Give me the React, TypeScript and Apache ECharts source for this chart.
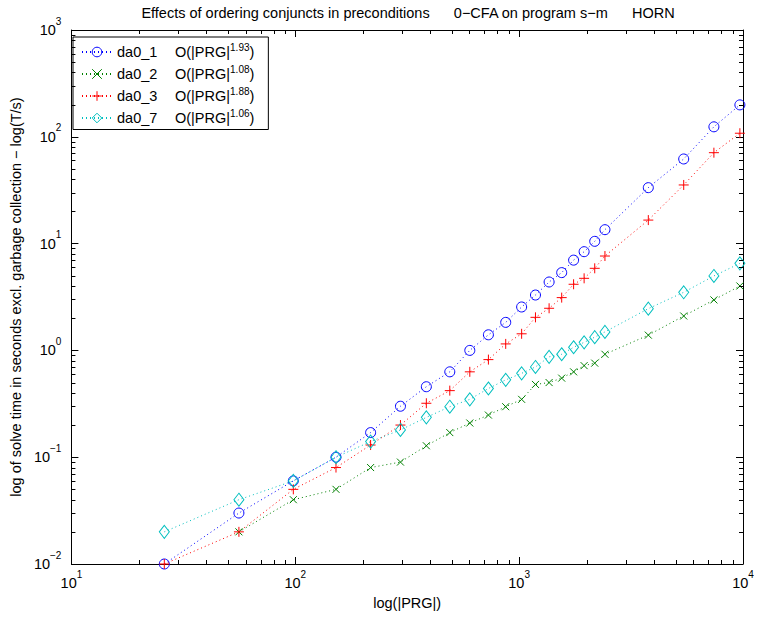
import React, { useEffect, useRef } from 'react';
import * as echarts from 'echarts';

// |PRG| sizes (x values)
const prgSizes = [26, 56, 98, 152, 217, 295, 385, 490, 602, 729, 871, 1026, 1183, 1361, 1549, 1751, 1951, 2176, 2417, 3776, 5434, 7413, 9685];

// solve times (s)
const da0_1 = [0.01, 0.03, 0.06, 0.10, 0.17, 0.30, 0.457, 0.63, 1.0, 1.40, 1.83, 2.55, 3.30, 4.37, 5.35, 7.0, 8.4, 10.5, 13.5, 33.4, 62, 124, 199];
const da0_2 = [null, 0.02, 0.04, 0.05, 0.08, 0.09, 0.128, 0.17, 0.209, 0.248, 0.297, 0.348, 0.48, 0.50, 0.55, 0.63, 0.72, 0.76, 0.92, 1.39, 2.10, 2.97, 4.01];
const da0_3 = [0.01, 0.02, 0.05, 0.08, 0.13, 0.20, 0.32, 0.42, 0.63, 0.82, 1.15, 1.43, 2.04, 2.48, 3.12, 4.16, 4.73, 5.87, 7.65, 16.6, 35.4, 71, 108];
const da0_7 = [0.02, 0.04, 0.06, 0.10, 0.14, 0.18, 0.236, 0.297, 0.348, 0.44, 0.53, 0.61, 0.70, 0.87, 0.92, 1.07, 1.19, 1.33, 1.49, 2.46, 3.50, 4.98, 6.53];

const seriesNames = ['da0_1', 'da0_2', 'da0_3', 'da0_7'];
const exponents = ['1.93', '1.08', '1.88', '1.06'];
const seriesColors = ['#0000ff', '#008000', '#ff0000', '#00bfbf'];

const xMinorTicks = [20, 30, 40, 50, 60, 70, 80, 90, 200, 300, 400, 500, 600, 700, 800, 900, 2000, 3000, 4000, 5000, 6000, 7000, 8000, 9000];
const yMinorTicks = [0.02, 0.03, 0.04, 0.05, 0.06, 0.07, 0.08, 0.09, 0.2, 0.3, 0.4, 0.5, 0.6, 0.7, 0.8, 0.9, 2, 3, 4, 5, 6, 7, 8, 9, 20, 30, 40, 50, 60, 70, 80, 90, 200, 300, 400, 500, 600, 700, 800, 900];

const titleText = 'Effects of ordering conjuncts in preconditions\u00A0\u00A0\u00A0\u00A0\u00A0\u00A00\u2212CFA on program s\u2212m\u00A0\u00A0\u00A0\u00A0\u00A0\u00A0HORN';
const xName = 'log(|PRG|)';
const yName = 'log of solve time in seconds excl. garbage collection \u2212 log(T/s)';

const FONT = '"Liberation Sans", Arial, Helvetica, sans-serif';
const FS = 14.5;

const tickLabel = (v: number) => {
  const e = Math.round(Math.log10(v));
  const es = e < 0 ? '\u2212' + String(-e) : String(e);
  return `{b|10}{e|${es}}`;
};

const labelRich = {
  b: { fontSize: FS, fontFamily: FONT, color: '#000', lineHeight: 28 },
  e: { fontSize: 10, fontFamily: FONT, color: '#000', lineHeight: 10, verticalAlign: 'top' },
};

const App: React.FC = () => {
  const ref = useRef<HTMLDivElement>(null);

  useEffect(() => {
    if (!ref.current) return;
    const chart = echarts.init(ref.current, undefined, { renderer: 'svg' });

    const symbols = [
      { symbol: 'circle', size: 10 },
      { symbol: 'path://M0,0L10,10M0,10L10,0', size: 7 },
      { symbol: 'path://M0,5L10,5M5,0L5,10', size: 10 },
      { symbol: 'path://M5,0L10,6.5L5,13L0,6.5Z', size: [10, 13] },
    ];
    const allData = [da0_1, da0_2, da0_3, da0_7];

    const dataSeries = allData.map((vals, i) => ({
      name: seriesNames[i],
      type: 'line',
      xAxisIndex: 0,
      yAxisIndex: 0,
      clip: false,
      data: prgSizes
        .map((x, j) => [x, vals[j]])
        .filter((p) => p[1] !== null),
      symbol: symbols[i].symbol,
      symbolSize: symbols[i].size,
      showAllSymbol: true,
      lineStyle: { color: seriesColors[i], width: 1, type: [1, 3] },
      itemStyle: { color: 'transparent', borderColor: seriesColors[i], borderWidth: 1 },
      emphasis: { disabled: true },
      z: 3,
    }));

    const tickStyle = { stroke: '#000', lineWidth: 1 };

    const xMinorSeries = {
      type: 'custom',
      silent: true,
      xAxisIndex: 0,
      yAxisIndex: 0,
      data: xMinorTicks.map((v) => [v, 1]),
      renderItem: (params: any, api: any) => {
        const cs = params.coordSys;
        const p = api.coord([api.value(0), api.value(1)]);
        const x = Math.round(p[0]) + 0.5;
        return {
          type: 'group',
          children: [
            { type: 'line', shape: { x1: x, y1: cs.y + cs.height, x2: x, y2: cs.y + cs.height - 4 }, style: tickStyle },
            { type: 'line', shape: { x1: x, y1: cs.y, x2: x, y2: cs.y + 4 }, style: tickStyle },
          ],
        };
      },
      z: 5,
    };

    const yMinorSeries = {
      type: 'custom',
      silent: true,
      xAxisIndex: 0,
      yAxisIndex: 0,
      data: yMinorTicks.map((v) => [100, v]),
      renderItem: (params: any, api: any) => {
        const cs = params.coordSys;
        const p = api.coord([api.value(0), api.value(1)]);
        const y = Math.round(p[1]) + 0.5;
        return {
          type: 'group',
          children: [
            { type: 'line', shape: { x1: cs.x, y1: y, x2: cs.x + 4, y2: y }, style: tickStyle },
            { type: 'line', shape: { x1: cs.x + cs.width, y1: y, x2: cs.x + cs.width - 4, y2: y }, style: tickStyle },
          ],
        };
      },
      z: 5,
    };

    const axisCommon = {
      axisLine: { show: true, lineStyle: { color: '#000', width: 1 } },
      axisTick: { show: true, inside: true, length: 7, lineStyle: { color: '#000', width: 1 } },
      splitLine: { show: false },
      minorTick: { show: false },
    };

    chart.setOption({
      animation: false,
      backgroundColor: '#fff',
      grid: { left: 67, right: 14, top: 30, bottom: 53, containLabel: false },
      xAxis: [
        {
          type: 'log',
          logBase: 10,
          min: 10,
          max: 10000,
          position: 'bottom',
          ...axisCommon,
          axisLabel: { show: true, margin: 5, formatter: tickLabel, rich: labelRich },
          name: xName,
          nameLocation: 'middle',
          nameGap: 31,
          nameTextStyle: { fontSize: FS, fontFamily: FONT, color: '#000' },
        },
        {
          type: 'log',
          logBase: 10,
          min: 10,
          max: 10000,
          position: 'top',
          ...axisCommon,
          axisLabel: { show: false },
        },
      ],
      yAxis: [
        {
          type: 'log',
          logBase: 10,
          min: 0.01,
          max: 1000,
          position: 'left',
          ...axisCommon,
          axisLabel: { show: true, margin: 10, formatter: tickLabel, rich: labelRich },
          name: yName,
          nameLocation: 'middle',
          nameGap: 39,
          nameTextStyle: { fontSize: FS, fontFamily: FONT, color: '#000' },
        },
        {
          type: 'log',
          logBase: 10,
          min: 0.01,
          max: 1000,
          position: 'right',
          ...axisCommon,
          axisLabel: { show: false },
        },
      ],
      legend: {
        show: true,
        data: seriesNames,
        orient: 'vertical',
        left: 73,
        top: 37,
        padding: [5, 14, 4, 8],
        itemGap: 4.5,
        itemWidth: 30,
        itemHeight: 12,
        borderColor: '#000',
        borderWidth: 1,
        borderRadius: 0,
        backgroundColor: '#fff',
        selectedMode: false,
        itemStyle: { borderWidth: 1 },
        formatter: (name: string) => {
          const i = seriesNames.indexOf(name);
          return `{n|${name}}{o|O(|PRG|}{e|${exponents[i]}}{o|)}`;
        },
        textStyle: {
          color: '#000',
          fontFamily: FONT,
          fontSize: FS,
          rich: {
            n: { fontSize: FS, fontFamily: FONT, color: '#000', width: 58, lineHeight: 20 },
            o: { fontSize: FS, fontFamily: FONT, color: '#000', lineHeight: 20 },
            e: { fontSize: 10, fontFamily: FONT, color: '#000', lineHeight: 10, verticalAlign: 'top' },
          },
        },
      },
      graphic: [
        {
          type: 'text',
          x: 408,
          y: 13,
          silent: true,
          style: {
            text: titleText,
            fontSize: FS,
            fontFamily: FONT,
            fill: '#000',
            textAlign: 'center',
            textVerticalAlign: 'middle',
          },
        },
      ],
      series: [...dataSeries, xMinorSeries, yMinorSeries],
    } as any);

    return () => {
      chart.dispose();
    };
  }, []);

  return (
    <div
      ref={ref}
      style={{ position: 'fixed', left: 0, top: 0, width: 757, height: 617, background: '#fff' }}
    />
  );
};

export default App;
